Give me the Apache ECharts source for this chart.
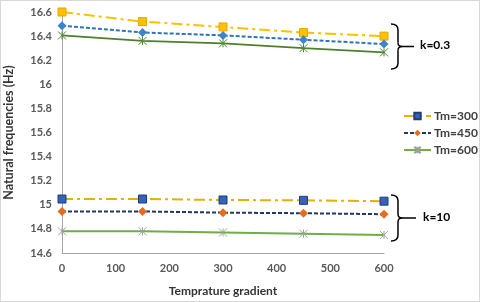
<!DOCTYPE html>
<html><head><meta charset="utf-8">
<script src="https://cdn.jsdelivr.net/npm/echarts@6/dist/echarts.min.js"></script>
<style>html,body{margin:0;padding:0;background:#fff}#c{width:480px;height:302px;box-sizing:border-box;border:1px solid #d9d9d9}</style>
</head><body><div id="c"></div>
<script>
const xValues = [0, 150, 300, 450, 600];
const legendNames = ['Tm=300', 'Tm=450', 'Tm=600'];
// k = 0.3 group
const k03_Tm300 = [16.60, 16.52, 16.476, 16.43, 16.40];
const k03_Tm450 = [16.486, 16.43, 16.406, 16.37, 16.334];
const k03_Tm600 = [16.406, 16.36, 16.34, 16.30, 16.265];
// k = 10 group
const k10_Tm300 = [15.048, 15.048, 15.04, 15.037, 15.03];
const k10_Tm450 = [14.945, 14.945, 14.935, 14.93, 14.922];
const k10_Tm600 = [14.78, 14.78, 14.77, 14.76, 14.75];
const groupLabels = ['k=0.3', 'k=10'];

const pts = arr => xValues.map((x, i) => [x, arr[i]]);
const star = 'path://M0 0L10 10M10 0L0 10M5 0L5 10';
const F = 'Lato, "Open Sans", sans-serif';

function brace(x0, top, bot, tail) {
  const xv = x0 + 7, mid = (top + bot) / 2, st = { stroke: '#000', lineWidth: 1.5, fill: null };
  return [
    { type: 'bezierCurve', shape: { x1: x0, y1: top, cpx1: xv, cpy1: top, x2: xv, y2: top + 6 }, style: st },
    { type: 'line', shape: { x1: xv, y1: top + 6, x2: xv, y2: mid - 4 }, style: st },
    { type: 'bezierCurve', shape: { x1: xv, y1: mid - 4, cpx1: xv, cpy1: mid, x2: xv + 4, y2: mid }, style: st },
    { type: 'bezierCurve', shape: { x1: xv + 4, y1: mid, cpx1: xv, cpy1: mid, x2: xv, y2: mid + 4 }, style: st },
    { type: 'line', shape: { x1: xv, y1: mid + 4, x2: xv, y2: bot - 6 }, style: st },
    { type: 'bezierCurve', shape: { x1: xv, y1: bot - 6, cpx1: xv, cpy1: bot, x2: x0, y2: bot }, style: st },
    { type: 'line', shape: { x1: xv + 4, y1: mid, x2: xv + 4 + tail, y2: mid }, style: st }
  ];
}

const chart = echarts.init(document.getElementById('c'));
chart.setOption({
  animation: false,
  grid: { left: 61, right: 95, top: 11, bottom: 48, containLabel: false, outerBoundsMode: 'none' },
  xAxis: {
    type: 'value', min: 0, max: 600, interval: 100,
    name: 'Temprature gradient', nameLocation: 'middle', nameGap: 32,
    nameTextStyle: { fontFamily: F, fontWeight: 'bold', fontSize: 12, color: '#333333' },
    axisLine: { lineStyle: { color: '#a6a6a6' } },
    axisTick: { show: false }, splitLine: { show: false },
    axisLabel: { fontFamily: F, fontWeight: 'bold', fontSize: 11, color: '#595959', margin: 10 }
  },
  yAxis: {
    type: 'value', min: 14.6, max: 16.6, interval: 0.2,
    name: 'Natural frequencies (Hz)', nameLocation: 'middle', nameGap: 47,
    nameTextStyle: { fontFamily: F, fontWeight: 'bold', fontSize: 12.5, color: '#333333' },
    axisLine: { show: true, lineStyle: { color: '#a6a6a6' } },
    axisTick: { show: false }, splitLine: { show: false },
    axisLabel: { fontFamily: F, fontWeight: 'bold', fontSize: 11, color: '#595959', margin: 10,
      formatter: v => String(Math.round(v * 10) / 10) }
  },
  legend: {
    data: legendNames, orient: 'vertical', left: 402, top: 109, itemGap: 5, padding: 0,
    itemWidth: 27, itemHeight: 8,
    textStyle: { fontFamily: F, fontWeight: 'bold', fontSize: 12, color: '#404040', padding: [0, 0, 0, -2] }
  },
  series: [
    { name: 'k03 300', type: 'line', data: pts(k03_Tm300), symbol: 'rect', symbolSize: 8,
      lineStyle: { color: '#FFC000', width: 2, type: [11, 4, 3, 4] },
      itemStyle: { color: '#FFC000', borderColor: '#E6A800', borderWidth: 1 } },
    { name: 'k03 450', type: 'line', data: pts(k03_Tm450), symbol: 'diamond', symbolSize: 9,
      lineStyle: { color: '#2E75B6', width: 2, type: [4, 2] },
      itemStyle: { color: '#3A86CC' } },
    { name: 'k03 600', type: 'line', data: pts(k03_Tm600), symbol: star, symbolSize: 8,
      lineStyle: { color: '#4E7F2A', width: 1.75 },
      itemStyle: { color: 'none', borderColor: '#4E8A2E', borderWidth: 1 } },
    { name: 'Tm=300', type: 'line', data: pts(k10_Tm300), symbol: 'rect', symbolSize: 8,
      lineStyle: { color: '#E6B000', width: 2, type: [11, 4, 3, 4] },
      itemStyle: { color: '#3563B5', borderColor: '#1F3D7A', borderWidth: 1 } },
    { name: 'Tm=450', type: 'line', data: pts(k10_Tm450), symbol: 'diamond', symbolSize: 9,
      lineStyle: { color: '#203864', width: 2, type: [4, 2] },
      itemStyle: { color: '#E36C1F' } },
    { name: 'Tm=600', type: 'line', data: pts(k10_Tm600), symbol: star, symbolSize: 8,
      lineStyle: { color: '#70AD47', width: 2 },
      itemStyle: { color: 'none', borderColor: '#A0A0A0', borderWidth: 1 } }
  ],
  graphic: [].concat(
    brace(390, 23, 68, 12),
    brace(390, 194, 240, 14),
    [
      { type: 'text', left: 419, top: 38, style: { text: groupLabels[0], font: 'bold 12px ' + F, fill: '#000' } },
      { type: 'text', left: 422, top: 210, style: { text: groupLabels[1], font: 'bold 12px ' + F, fill: '#000' } }
    ]
  )
});
</script></body></html>
